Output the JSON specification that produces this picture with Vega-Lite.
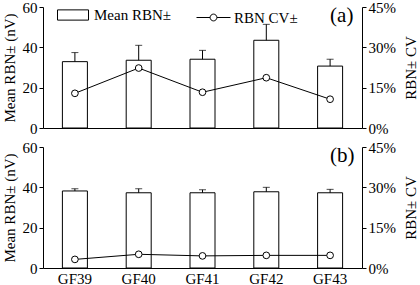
{
  "$schema": "https://vega.github.io/schema/vega-lite/v6.json",
  "padding": {"left": 2, "top": -1, "right": 0, "bottom": 0},
  "bounds": "flush",
  "config": {
    "font": "Times New Roman, Liberation Serif, serif",
    "view": {"stroke": null},
    "text": {"font": "Times New Roman, Liberation Serif, serif"},
    "axis": {"grid": false, "labelOverlap": false, "labelFont": "Times New Roman, Liberation Serif, serif", "titleFont": "Times New Roman, Liberation Serif, serif", "labelFontSize": 15, "titleFontSize": 15, "titleFontWeight": "normal", "labelColor": "black", "titleColor": "black", "domainColor": "black", "tickColor": "black", "tickSize": 4, "labelPadding": 2},
    "concat": {"spacing": 19},
    "legend": {"labelFontSize": 15, "labelColor": "black", "labelFont": "Times New Roman, Liberation Serif, serif"}
  },
  "datasets": {
    "a": [
      {"gf": "GF39", "mean": 32.9, "upper": 37.4, "cv": 0.129},
      {"gf": "GF40", "mean": 33.6, "upper": 41.0, "cv": 0.223},
      {"gf": "GF41", "mean": 34.1, "upper": 38.5, "cv": 0.133},
      {"gf": "GF42", "mean": 43.5, "upper": 51.4, "cv": 0.187},
      {"gf": "GF43", "mean": 30.7, "upper": 34.1, "cv": 0.107}
    ],
    "b": [
      {"gf": "GF39", "mean": 38.2, "upper": 39.3, "cv": 0.032},
      {"gf": "GF40", "mean": 37.3, "upper": 39.3, "cv": 0.051},
      {"gf": "GF41", "mean": 37.3, "upper": 38.8, "cv": 0.045},
      {"gf": "GF42", "mean": 37.8, "upper": 40.0, "cv": 0.047},
      {"gf": "GF43", "mean": 37.3, "upper": 39.0, "cv": 0.047}
    ],
    "labelA": [{"gf": "GF43", "y": 60, "label": "(a)"}],
    "labelB": [{"gf": "GF43", "y": 60, "label": "(b)"}]
  },
  "vconcat": [
    {
      "width": 319,
      "height": 121,
      "data": {"name": "a"},
      "encoding": {
        "x": {"field": "gf", "type": "nominal", "title": null, "scale": {"paddingInner": 0, "paddingOuter": 0}, "axis": {"labels": false, "ticks": false, "domain": true}}
      },
      "layer": [
        {
          "layer": [
            {
              "mark": {"type": "bar", "stroke": "black", "strokeWidth": 1, "width": 25},
              "encoding": {
                "y": {"field": "mean", "type": "quantitative", "scale": {"domain": [0, 60], "nice": false}, "axis": {"values": [0, 20, 40, 60], "title": "Mean RBN± (nV)", "titlePadding": 5}},
                "fill": {"datum": "Mean RBN±", "type": "nominal", "scale": {"range": ["white"]}, "legend": {"title": null, "orient": "none", "legendX": 14, "legendY": -8, "symbolType": "M-1,-0.33H1V0.33H-1Z", "symbolSize": 961, "symbolStrokeColor": "black", "symbolStrokeWidth": 1, "labelOffset": 5, "padding": 0}}
              }
            },
            {
              "mark": {"type": "rule", "color": "black", "strokeWidth": 1},
              "encoding": {"y": {"field": "mean", "type": "quantitative"}, "y2": {"field": "upper"}}
            },
            {
              "mark": {"type": "tick", "color": "black", "thickness": 1, "size": 7},
              "encoding": {"y": {"field": "upper", "type": "quantitative"}}
            },
            {
              "data": {"name": "labelA"},
              "mark": {"type": "text", "fontWeight": "normal", "fontSize": 21, "align": "left", "baseline": "top", "dx": 0, "dy": -2, "color": "black"},
              "encoding": {"x": {"field": "gf", "type": "nominal"}, "y": {"field": "y", "type": "quantitative"}, "text": {"field": "label"}}
            }
          ]
        },
        {
          "layer": [
            {
              "mark": {"type": "line", "color": "black", "strokeWidth": 1},
              "encoding": {
                "y": {"field": "cv", "type": "quantitative", "scale": {"domain": [0, 0.45], "nice": false}, "axis": {"orient": "right", "format": ".0%", "values": [0, 0.15, 0.3, 0.45], "title": "RBN± CV", "titleAngle": 270, "titleBaseline": "top", "titlePadding": 8}},
                "stroke": {"datum": "RBN  CV±", "type": "nominal", "scale": {"range": ["black"]}, "legend": {"title": null, "orient": "none", "legendX": 153, "legendY": -7, "symbolType": "M-1,0H-0.2M0.2,0H1M-0.2,0A0.2,0.2,0,1,1,0.2,0A0.2,0.2,0,1,1,-0.2,0", "symbolSize": 1156, "symbolStrokeWidth": 1, "symbolFillColor": "white", "labelOffset": 3, "padding": 0}}
              }
            },
            {
              "mark": {"type": "point", "shape": "circle", "size": 45, "filled": true, "fill": "white", "stroke": "black", "strokeWidth": 1, "opacity": 1},
              "encoding": {"y": {"field": "cv", "type": "quantitative", "scale": {"domain": [0, 0.45], "nice": false}}}
            }
          ]
        }
      ],
      "resolve": {"scale": {"y": "independent"}}
    },
    {
      "width": 319,
      "height": 121,
      "data": {"name": "b"},
      "encoding": {
        "x": {"field": "gf", "type": "nominal", "title": null, "scale": {"paddingInner": 0, "paddingOuter": 0}, "axis": {"labels": true, "ticks": false, "domain": true, "labelAngle": 0, "labelPadding": 3}}
      },
      "layer": [
        {
          "layer": [
            {
              "mark": {"type": "bar", "fill": "white", "stroke": "black", "strokeWidth": 1, "width": 25},
              "encoding": {
                "y": {"field": "mean", "type": "quantitative", "scale": {"domain": [0, 60], "nice": false}, "axis": {"values": [0, 20, 40, 60], "title": "Mean RBN± (nV)", "titlePadding": 5}}
              }
            },
            {
              "mark": {"type": "rule", "color": "black", "strokeWidth": 1},
              "encoding": {"y": {"field": "mean", "type": "quantitative"}, "y2": {"field": "upper"}}
            },
            {
              "mark": {"type": "tick", "color": "black", "thickness": 1, "size": 7},
              "encoding": {"y": {"field": "upper", "type": "quantitative"}}
            },
            {
              "data": {"name": "labelB"},
              "mark": {"type": "text", "fontWeight": "normal", "fontSize": 21, "align": "left", "baseline": "top", "dx": 0, "dy": -2, "color": "black"},
              "encoding": {"x": {"field": "gf", "type": "nominal"}, "y": {"field": "y", "type": "quantitative"}, "text": {"field": "label"}}
            }
          ]
        },
        {
          "layer": [
            {
              "mark": {"type": "line", "color": "black", "strokeWidth": 1},
              "encoding": {
                "y": {"field": "cv", "type": "quantitative", "scale": {"domain": [0, 0.45], "nice": false}, "axis": {"orient": "right", "format": ".0%", "values": [0, 0.15, 0.3, 0.45], "title": "RBN± CV", "titleAngle": 270, "titleBaseline": "top", "titlePadding": 8}}
              }
            },
            {
              "mark": {"type": "point", "shape": "circle", "size": 45, "filled": true, "fill": "white", "stroke": "black", "strokeWidth": 1, "opacity": 1},
              "encoding": {"y": {"field": "cv", "type": "quantitative", "scale": {"domain": [0, 0.45], "nice": false}}}
            }
          ]
        }
      ],
      "resolve": {"scale": {"y": "independent"}}
    }
  ]
}
